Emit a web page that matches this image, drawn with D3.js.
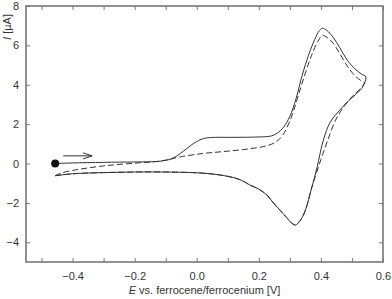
<!DOCTYPE html>
<html>
<head>
<meta charset="utf-8">
<script src="https://cdn.jsdelivr.net/npm/d3@7"></script>
<style>
  body { margin: 0; background: #fff; }
  text { font-family: "Liberation Sans", Arial, sans-serif; fill: #333; }
</style>
</head>
<body>
<div id="chart"></div>
<script>
const width = 392;
const height = 299;
const margin = {top: 6, right: 9, bottom: 37, left: 26};
const innerWidth = width - margin.left - margin.right;
const innerHeight = height - margin.top - margin.bottom;

// scan with solid line (forward then reverse)
const solidE = [-0.456, -0.4, -0.3, -0.2, -0.15, -0.118, -0.08, -0.053, -0.01, 0.022, 0.06, 0.1, 0.2, 0.24, 0.26, 0.28, 0.3, 0.32, 0.34, 0.36, 0.38, 0.395, 0.405, 0.42, 0.44, 0.46, 0.485, 0.51, 0.53, 0.545,
  0.535, 0.515, 0.49, 0.46, 0.43, 0.408, 0.388, 0.37, 0.35, 0.335, 0.318, 0.305, 0.29, 0.27, 0.247, 0.226, 0.2, 0.17, 0.14, 0.1, 0.05, 0.0, -0.1, -0.2, -0.3, -0.4, -0.456];
const solidI = [0.0, 0.03, 0.06, 0.08, 0.09, 0.12, 0.25, 0.51, 1.02, 1.27, 1.33, 1.33, 1.35, 1.4, 1.55, 1.85, 2.4, 3.3, 4.5, 5.5, 6.3, 6.75, 6.87, 6.75, 6.4, 5.9, 5.25, 4.8, 4.55, 4.4,
  3.9, 3.55, 3.2, 2.7, 2.1, 1.2, -0.17, -1.25, -2.37, -2.85, -3.13, -3.02, -2.75, -2.4, -2.0, -1.6, -1.3, -1.08, -0.82, -0.65, -0.53, -0.47, -0.43, -0.43, -0.46, -0.52, -0.62];

// second scan, dashed
const dashedE = [-0.456, -0.44, -0.4, -0.3, -0.2, -0.12, -0.085, -0.053, 0.02, 0.08, 0.15, 0.22, 0.25, 0.27, 0.29, 0.31, 0.33, 0.35, 0.37, 0.39, 0.405, 0.42, 0.44, 0.46, 0.485, 0.51, 0.53, 0.54,
  0.53, 0.5, 0.47, 0.447, 0.42, 0.4, 0.37, 0.35, 0.335, 0.318, 0.305, 0.29, 0.27, 0.247, 0.226, 0.2, 0.17, 0.14, 0.1, 0.05, 0.0, -0.1, -0.2, -0.3, -0.4, -0.456];
const dashedI = [-0.62, -0.5, -0.35, -0.12, 0.02, 0.12, 0.22, 0.34, 0.51, 0.6, 0.71, 0.88, 1.05, 1.3, 1.8, 2.6, 3.6, 4.6, 5.5, 6.2, 6.5, 6.4, 6.1, 5.6, 4.95, 4.45, 4.2, 4.12,
  3.85, 3.39, 2.8, 2.2, 1.1, 0.2, -1.25, -2.37, -2.85, -3.1, -3.0, -2.75, -2.4, -2.0, -1.6, -1.3, -1.08, -0.82, -0.65, -0.53, -0.47, -0.43, -0.43, -0.46, -0.52, -0.62];

const xTicks = [-0.5, -0.4, -0.3, -0.2, -0.1, 0.0, 0.1, 0.2, 0.3, 0.4, 0.5, 0.6];
const xLabels = [-0.4, -0.2, 0.0, 0.2, 0.4, 0.6];
const yTicks = [-4, -2, 0, 2, 4, 6, 8];

const startPoint = [-0.456, 0.0];
const arrowE = [-0.43, -0.337];
const arrowI = 0.39;

const svg = d3.select("#chart")
  .append("svg")
  .attr("width", width)
  .attr("height", height);

const x = d3.scaleLinear().domain([-0.55, 0.6]).range([0, innerWidth]);
const y = d3.scaleLinear().domain([-5, 8]).range([innerHeight, 0]);

const g = svg.append("g")
  .attr("transform", "translate(" + margin.left + "," + margin.top + ")");

const axisColor = "#777";
const isLabel = d => xLabels.some(v => Math.abs(v - d) < 1e-9);

// bottom axis: labels + inward ticks
const bottomAxis = g.append("g")
  .attr("transform", "translate(0," + innerHeight + ")")
  .call(d3.axisBottom(x).tickValues(xTicks).tickSizeInner(-4).tickSizeOuter(0)
    .tickFormat(d => isLabel(d) ? d3.format(".1f")(d) : ""));
bottomAxis.selectAll("text").filter(d => !isLabel(d)).remove();
bottomAxis.selectAll("text").attr("y", 10).style("font-size", "11px").attr("fill", "#333");

const topAxis = g.append("g")
  .call(d3.axisTop(x).tickValues(xTicks).tickSizeInner(-4).tickSizeOuter(0));
topAxis.selectAll("text").remove();

const leftAxis = g.append("g")
  .call(d3.axisLeft(y).tickValues(yTicks).tickSizeInner(-4).tickSizeOuter(0).tickFormat(d3.format("d")));
leftAxis.selectAll("text").attr("x", -7).style("font-size", "11px").attr("fill", "#333");

const rightAxis = g.append("g")
  .attr("transform", "translate(" + innerWidth + ",0)")
  .call(d3.axisRight(y).tickValues(yTicks.filter(d => d < 8)).tickSizeInner(-4).tickSizeOuter(0));
rightAxis.selectAll("text").remove();

[bottomAxis, topAxis, leftAxis, rightAxis].forEach(a => {
  a.select(".domain").remove();
  a.selectAll("line").attr("stroke", axisColor);
});

g.append("rect")
  .attr("x", 0)
  .attr("y", 0)
  .attr("width", innerWidth)
  .attr("height", innerHeight)
  .attr("fill", "none")
  .attr("stroke", axisColor)
  .attr("stroke-width", 1.6);

const line = d3.line()
  .x(d => x(d[0]))
  .y(d => y(d[1]))
  .curve(d3.curveCatmullRom.alpha(0.5));

g.append("path")
  .datum(dashedE.map((e, i) => [e, dashedI[i]]))
  .attr("d", line)
  .attr("fill", "none")
  .attr("stroke", "#333")
  .attr("stroke-width", 1)
  .attr("stroke-dasharray", "6,3");

g.append("path")
  .datum(solidE.map((e, i) => [e, solidI[i]]))
  .attr("d", line)
  .attr("fill", "none")
  .attr("stroke", "#333")
  .attr("stroke-width", 1);

g.append("circle")
  .attr("cx", x(startPoint[0]))
  .attr("cy", y(startPoint[1]))
  .attr("r", 4)
  .attr("fill", "#111");

// scan direction arrow
const ax0 = x(arrowE[0]), ax1 = x(arrowE[1]), ay = y(arrowI);
g.append("line")
  .attr("x1", ax0).attr("y1", ay)
  .attr("x2", ax1).attr("y2", ay)
  .attr("stroke", "#333").attr("stroke-width", 1);
g.append("path")
  .attr("d", "M" + (ax1 - 9) + "," + (ay - 3) + "L" + ax1 + "," + ay + "L" + (ax1 - 9) + "," + (ay + 3))
  .attr("fill", "none")
  .attr("stroke", "#333")
  .attr("stroke-width", 1);

// axis titles
const xt = svg.append("text")
  .attr("x", margin.left + innerWidth / 2)
  .attr("y", 294)
  .attr("text-anchor", "middle")
  .style("font-size", "11px");
xt.append("tspan").style("font-style", "italic").text("E");
xt.append("tspan").text(" vs. ferrocene/ferrocenium [V]");

const yt = svg.append("text")
  .attr("transform", "translate(11,27) rotate(-90)")
  .attr("text-anchor", "middle")
  .style("font-size", "11px");
yt.append("tspan").style("font-style", "italic").text("I");
yt.append("tspan").text(" [µA]");
</script>
</body>
</html>
